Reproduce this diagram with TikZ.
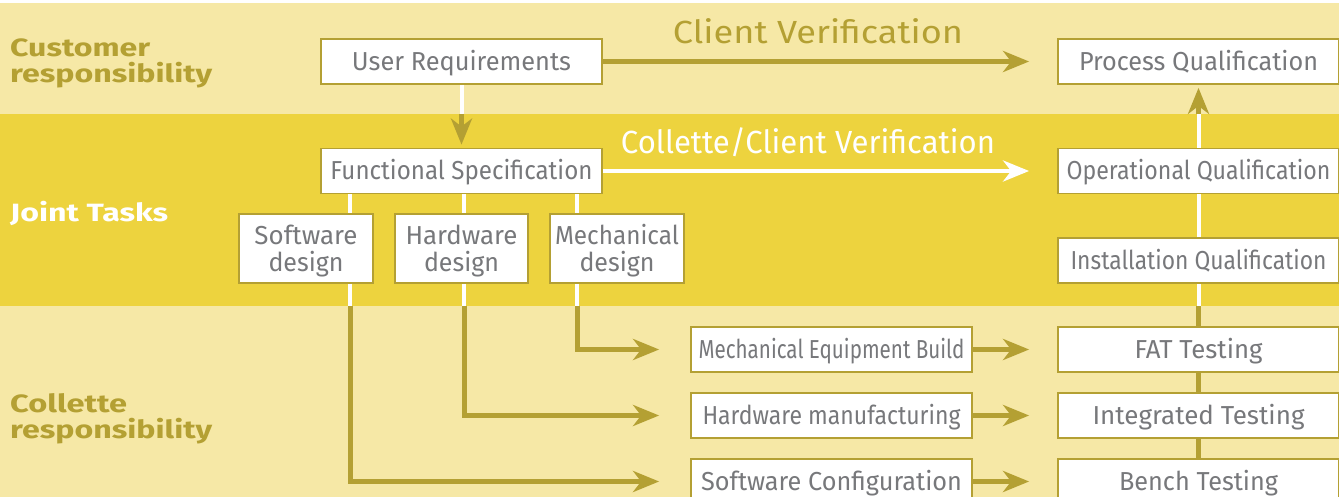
\documentclass[tikz,border=0pt]{standalone}
\usepackage{fontspec}
\setmainfont{Fira Sans}
\usetikzlibrary{arrows.meta}
\definecolor{lightband}{HTML}{F6E8A6}
\definecolor{midband}{HTML}{EDD33E}
\definecolor{olive}{HTML}{B4A033}
\definecolor{txtgrey}{HTML}{77787B}
\newcommand{\fitw}[2]{\resizebox{#1pt}{\height}{#2}}
\tikzset{
  box/.style={draw=olive, line width=1.8pt, fill=white, inner sep=0pt, text=txtgrey,
    font=\fontsize{26}{28}\selectfont, minimum height=45pt, minimum width=281pt,
    text height=18pt, text depth=0pt},
  dbox/.style={draw=olive, line width=1.8pt, fill=white, inner sep=0pt, text=txtgrey,
    minimum width=134pt, minimum height=69pt, align=center,
    font=\fontsize{26}{27}\selectfont, text height=46pt, text depth=0pt},
  oline/.style={draw=olive, line width=5pt},
  wline/.style={draw=white, line width=4pt},
  otip/.style={-{Stealth[length=26pt,width=21pt,inset=8pt]}},
  side/.style={font=\bfseries\fontsize{25}{26}\selectfont, align=left, anchor=west, inner sep=0pt},
  head/.style={font=\fontsize{32}{34}\selectfont, inner sep=0pt}
}
\begin{document}
\begin{tikzpicture}[x=1pt,y=-1pt]
\useasboundingbox (0,0) rectangle (1339,497);
\clip (0,0) rectangle (1339,497);
% bands
\fill[white] (0,0) rectangle (1339,3);
\fill[lightband] (0,3) rectangle (1339,114);
\fill[midband] (0,114) rectangle (1339,306);
\fill[lightband] (0,306) rectangle (1339,497);
\coordinate (bandA) at (0,114);
\coordinate (bandB) at (0,306);
\coordinate (sx) at (350,0);
\coordinate (hx) at (464,0);
\coordinate (mx) at (577,0);

% side labels
\node[side, text=olive] (lcust) at (10,63) {\fitw{140}{Customer}\\\fitw{202}{responsibility}};
\node[side, text=white] (ljoint) at (10,213) {\fitw{158}{Joint Tasks}};
\node[side, text=olive] (lcoll) at (10,419) {\fitw{117}{Collette}\\\fitw{202}{responsibility}};

% headers
\node[head, text=olive] (cv) at (818,31) {\fitw{290}{Client Verification}};
\node[head, text=white] (ccv) at (808,142) {\fitw{374}{Collette/Client Verification}};

% boxes
\node[box] (ur) at (461.5,61.5) {\fitw{219}{User Requirements}};
\node[box] (pq) at (1198.5,61.5) {\fitw{239}{Process Qualification}};
\node[box] (fs) at (461.5,171) {\fitw{262}{Functional Specification}};
\node[box] (oq) at (1198.5,171) {\fitw{264}{Operational Qualification}};
\node[box] (iq) at (1198.5,260.5) {\fitw{256}{Installation Qualification}};
\node[dbox] (sd) at (306,248.5) {\fitw{103}{Software}\\\fitw{75}{design}};
\node[dbox, minimum width=133pt] (hd) at (461.5,248.5) {\fitw{112}{Hardware}\\\fitw{75}{design}};
\node[dbox] (md) at (617,248.5) {\fitw{124}{Mechanical}\\\fitw{75}{design}};
\node[box] (meb) at (831.5,349.5) {\fitw{266}{Mechanical Equipment Build}};
\node[box] (hm) at (831.5,415.5) {\fitw{258}{Hardware manufacturing}};
\node[box] (sc) at (831.5,481.5) {\fitw{261}{Software Configuration}};
\node[box] (fat) at (1198.5,349.5) {\fitw{128}{FAT Testing}};
\node[box] (it) at (1198.5,415.5) {\fitw{212}{Integrated Testing}};
\node[box] (bt) at (1198.5,481.5) {\fitw{159}{Bench Testing}};

% verification arrows
\draw[oline, otip] (ur.east) -- ([xshift=-28pt]pq.west);
\draw[wline, -{Stealth[length=26pt,width=21pt,inset=8pt]}] (fs.east) -- ([xshift=-28pt]oq.west);

% UR -> FS
\draw[wline] (ur.south) -- (bandA -| ur);
\draw[oline, otip] (bandA -| ur) -- ([yshift=3pt]fs.north);

% FS -> design boxes
\draw[wline] (fs.south -| sx) -- (sd.north -| sx);
\draw[wline] (fs.south -| hx) -- (hd.north -| hx);
\draw[wline] (fs.south -| mx) -- (md.north -| mx);

% design boxes -> build boxes
\draw[wline] (sd.south -| sx) -- (bandB -| sx);
\draw[wline] (hd.south -| hx) -- (bandB -| hx);
\draw[wline] (md.south -| mx) -- (bandB -| mx);
\draw[oline, otip] (bandB -| sx) -- (sx |- sc) -- ([xshift=-31pt]sc.west);
\draw[oline, otip] (bandB -| hx) -- (hx |- hm) -- ([xshift=-31pt]hm.west);
\draw[oline, otip] (bandB -| mx) -- (mx |- meb) -- ([xshift=-31pt]meb.west);

% build -> testing
\draw[oline, otip] (meb.east) -- ([xshift=-28pt]fat.west);
\draw[oline, otip] (hm.east) -- ([xshift=-28pt]it.west);
\draw[oline, otip] (sc.east) -- ([xshift=-28pt]bt.west);

% right column
\draw[oline] (bt.north) -- (it.south);
\draw[oline] (it.north) -- (fat.south);
\draw[oline] (fat.north) -- (bandB -| fat);
\draw[wline] (bandB -| iq) -- (iq.south);
\draw[wline] (iq.north) -- (oq.south);
\draw[wline] (oq.north) -- (bandA -| oq);
\draw[oline, otip] (bandA -| oq) -- ([yshift=-3pt]pq.south);
\end{tikzpicture}
\end{document}
